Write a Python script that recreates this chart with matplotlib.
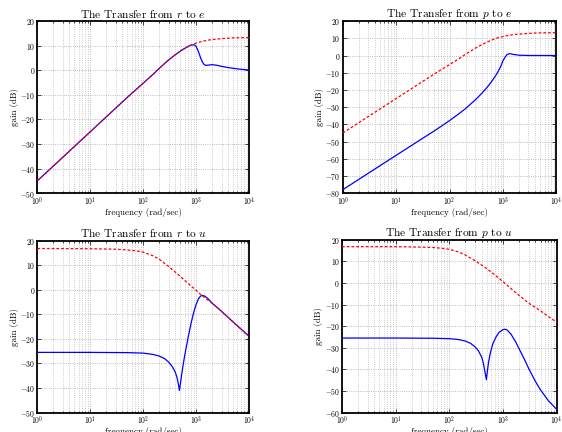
from __future__ import annotations

import matplotlib

matplotlib.use("Agg")

import matplotlib.pyplot as plt
from matplotlib.ticker import LogLocator, MultipleLocator, NullFormatter


# r -> e : open loop style reference (red dashed) and closed loop (blue)
RE_FREQ_RED = [1, 10, 50, 100, 150, 200, 300, 400, 500, 600, 700, 800, 1000, 1300, 1700,
               2000, 3000, 5000, 10000]
RE_GAIN_RED = [-45, -25, -11, -5.2, -1.8, 0.8, 4.2, 6.3, 7.8, 8.9, 9.7, 10.3, 11.1, 11.8, 12.3,
               12.5, 12.9, 13.2, 13.3]
RE_FREQ_BLUE = [1, 10, 50, 100, 150, 200, 300, 400, 500, 600, 700, 800, 900, 950, 1000, 1100,
                1200, 1300, 1400, 1500, 1700, 2000, 2500, 3000, 4000, 5000, 7000, 10000]
RE_GAIN_BLUE = [-45, -25, -11, -5.2, -1.8, 0.8, 4.2, 6.3, 7.8, 8.9, 9.7, 10.3, 10.4, 10.2, 9.6, 7.6,
                5.2, 3.4, 2.4, 2.0, 2.1, 2.3, 2.0, 1.6, 1.1, 0.8, 0.4, 0.1]

# p -> e
PE_FREQ_RED = [1, 10, 50, 100, 150, 200, 300, 400, 500, 600, 700, 800, 1000, 1300, 1700,
               2000, 3000, 5000, 10000]
PE_GAIN_RED = [-45, -25, -11, -5.2, -1.8, 0.8, 4.2, 6.3, 7.8, 8.9, 9.7, 10.3, 11.1, 11.8, 12.3,
               12.5, 12.9, 13.2, 13.3]
PE_FREQ_BLUE = [1, 10, 30, 50, 70, 100, 150, 200, 300, 400, 500, 600, 700, 800, 900, 1000,
                1100, 1200, 1300, 1400, 1600, 2000, 3000, 10000]
PE_GAIN_BLUE = [-78, -58, -48.5, -44.1, -41.1, -37.8, -33.8, -30.8, -25.9, -22.0, -18.6, -15.5,
                -12.5, -9.6, -6.6, -3.0, -0.8, 0.7, 1.0, 1.0, 0.6, 0.2, 0.05, 0]

# r -> u
RU_FREQ_RED = [1, 10, 30, 50, 70, 100, 150, 200, 300, 400, 500, 700, 1000, 1300, 2000, 3000,
               5000, 10000]
RU_GAIN_RED = [16.8, 16.7, 16.5, 16.2, 15.9, 15.3, 13.9, 12.4, 9.5, 7.2, 5.4, 2.6, -0.3, -2.5,
               -5.5, -8.8, -13.2, -19.0]
RU_FREQ_BLUE = [1, 10, 50, 100, 150, 200, 250, 300, 350, 400, 430, 460, 480, 500, 530, 570,
                620, 700, 800, 900, 1000, 1100, 1200, 1300, 1450, 1700, 2000, 3000, 5000, 10000]
RU_GAIN_BLUE = [-25.5, -25.5, -25.6, -25.8, -26.3, -27.0, -28.0, -29.4, -31.2, -33.5, -35.5,
                -38.5, -41, -38.5, -34.5, -30, -25.5, -19.5, -13.5, -9.0, -5.8, -3.7, -2.6,
                -2.3, -2.6, -3.8, -5.5, -8.8, -13.2, -19.0]

# p -> u
PU_FREQ_RED = [1, 10, 30, 50, 70, 100, 150, 200, 300, 400, 500, 700, 1000, 1500, 2000, 3000,
               5000, 7000, 10000]
PU_GAIN_RED = [16.8, 16.8, 16.6, 16.4, 16.1, 15.6, 14.3, 12.9, 10.3, 8.3, 6.6, 3.8, 0.6, -3.2,
               -5.8, -9.3, -12.9, -15.5, -18.2]
PU_FREQ_BLUE = [1, 10, 50, 100, 150, 200, 250, 300, 350, 400, 430, 460, 490, 510, 540, 580,
                650, 750, 850, 1000, 1100, 1200, 1400, 1700, 2000, 2500, 3000, 4000, 5000,
                7000, 10000]
PU_GAIN_BLUE = [-25.5, -25.5, -25.6, -25.8, -26.2, -26.9, -28, -29.5, -31.5, -34.3, -37, -41,
                -44.8, -41, -36.5, -32.5, -28, -24.8, -22.8, -21.6, -21.4, -21.8, -23.6, -27,
                -30.5, -35.3, -39.5, -45.5, -49.5, -54.5, -58.5]

PANELS = [
    ("r", "e", (-50, 20), [0.0665, 0.553, 0.377, 0.398],
     (RE_FREQ_RED, RE_GAIN_RED), (RE_FREQ_BLUE, RE_GAIN_BLUE)),
    ("p", "e", (-80, 20), [0.610, 0.553, 0.380, 0.398],
     (PE_FREQ_RED, PE_GAIN_RED), (PE_FREQ_BLUE, PE_GAIN_BLUE)),
    ("r", "u", (-50, 20), [0.0665, 0.045, 0.377, 0.398],
     (RU_FREQ_RED, RU_GAIN_RED), (RU_FREQ_BLUE, RU_GAIN_BLUE)),
    ("p", "u", (-60, 20), [0.6085, 0.045, 0.382, 0.400],
     (PU_FREQ_RED, PU_GAIN_RED), (PU_FREQ_BLUE, PU_GAIN_BLUE)),
]


def draw_panel(fig, src, dst, ylim, rect, red, blue):
    ax = fig.add_axes(rect)
    ax.semilogx(blue[0], blue[1], color="#0000ff", lw=0.9, zorder=3)
    ax.semilogx(red[0], red[1], color="#ff0000", lw=0.9, linestyle=(0, (2.2, 1.6)), zorder=4)
    ax.set_xlim(1, 1e4)
    ax.set_ylim(*ylim)
    ax.yaxis.set_major_locator(MultipleLocator(10))
    ax.xaxis.set_major_locator(LogLocator(base=10, numticks=10))
    ax.xaxis.set_minor_locator(LogLocator(base=10, subs=range(2, 10), numticks=20))
    ax.xaxis.set_minor_formatter(NullFormatter())
    ax.grid(True, which="major", color="#a8a8a8", linestyle=":", lw=0.6)
    ax.grid(True, which="minor", axis="x", color="#bcbcbc", linestyle=":", lw=0.6)
    ax.tick_params(which="both", direction="in", top=True, right=True, labelsize=5.5,
                   pad=1.5, width=0.5)
    ax.tick_params(which="major", length=3)
    ax.tick_params(which="minor", length=1.5)
    for spine in ax.spines.values():
        spine.set_linewidth(1.3)
    ax.set_title(f"The Transfer from ${src}$ to ${dst}$", fontsize=8.2, pad=2.5)
    ax.set_xlabel("frequency (rad/sec)", fontsize=6.5, labelpad=0)
    ax.set_ylabel("gain (dB)", fontsize=6.5, labelpad=1)
    return ax


def main() -> None:
    plt.rcParams.update(
        {
            "font.family": "cmr10",
            "mathtext.fontset": "cm",
            "axes.formatter.use_mathtext": True,
            "axes.unicode_minus": True,
        }
    )
    fig = plt.figure(figsize=(5.62, 4.32), dpi=100)
    for src, dst, ylim, rect, red, blue in PANELS:
        draw_panel(fig, src, dst, ylim, rect, red, blue)
    fig.savefig("out.png", dpi=100)
    plt.close(fig)


if __name__ == "__main__":
    main()
